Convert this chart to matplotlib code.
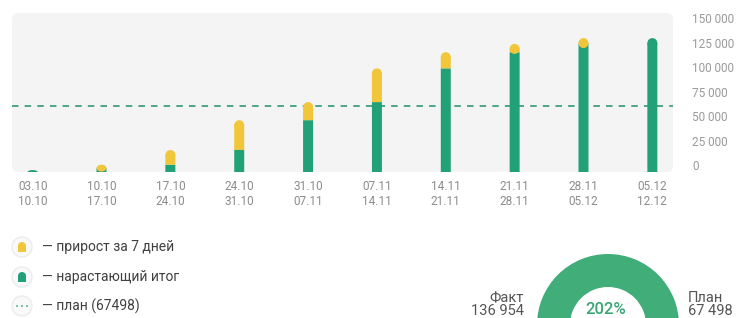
import matplotlib
matplotlib.use("Agg")
import matplotlib.pyplot as plt
import numpy as np
from matplotlib.patches import FancyBboxPatch, Circle, Rectangle, Ellipse
from matplotlib.transforms import ScaledTranslation

plt.rcParams['font.family'] = ['Roboto', 'DejaVu Sans']

# ---------------- data ----------------
week_start = ['03.10', '10.10', '17.10', '24.10', '31.10', '07.11', '14.11', '21.11', '28.11', '05.12']
week_end = ['10.10', '17.10', '24.10', '31.10', '07.11', '14.11', '21.11', '28.11', '05.12', '12.12']
cumulative_before = [2000, 4000, 7500, 22500, 53000, 71500, 106000, 122500, 131000, 136954]
weekly_growth = [0, 3500, 15000, 30500, 18500, 34500, 16500, 8500, 5954, 0]
plan_value = 67498
fact_value = 136954
fact_label = '136 954'
plan_label = '67 498'
percent_label = '202%'
y_ticks = [0, 25000, 50000, 75000, 100000, 125000, 150000]
y_tick_labels = ['0', '25 000', '50 000', '75 000', '100 000', '125 000', '150 000']
legend_labels = ['— прирост за 7 дней', '— нарастающий итог', '— план (67498)']

# ---------------- style ----------------
GREEN = '#22a078'
YELLOW = '#f2c63a'
DONUT = '#41ae7a'
PLAN_C = '#3f9f80'
BG = '#f4f4f4'

W, H = 740, 318
fig = plt.figure(figsize=(W / 100, H / 100), dpi=100)
fig.patch.set_facecolor('white')

ax_l, ax_top, ax_r, ax_bot = 12, 13, 673, 172
ax = fig.add_axes([ax_l / W, (H - ax_bot) / H, (ax_r - ax_l) / W, (ax_bot - ax_top) / H])
ax.patch.set_visible(False)
for s in ax.spines.values():
    s.set_visible(False)

# rounded background
bg = FancyBboxPatch((ax_l, H - ax_bot), ax_r - ax_l, ax_bot - ax_top,
                    boxstyle='round,pad=0,rounding_size=6', transform=None,
                    fc=BG, ec='none', zorder=0)
fig.add_artist(bg)

x = np.arange(len(week_start))
ymax = 162600
ax.set_xlim(-0.3, len(x) - 0.7)
ax.set_ylim(0, ymax)
bw = 0.145

# cap radius in data units (round top)
px_per_x = (ax_r - ax_l) / (len(x) - 0.4)
px_per_y = (ax_bot - ax_top) / ymax
r_px = bw * px_per_x / 2
r_y = r_px / px_per_y

ax.axhline(plan_value, color=PLAN_C, lw=1.3, dashes=(3.6, 3.4), zorder=1.5)

for i in x:
    cb = cumulative_before[i]
    g = weekly_growth[i]
    if g > 0:
        ax.bar(i, cb, bw, color=GREEN, zorder=2, linewidth=0, snap=False)
        seg_b, seg_t, col = cb, cb + g, YELLOW
    else:
        seg_b, seg_t, col = 0, cb, GREEN
    cap = min(r_y, seg_t - seg_b)
    ax.bar(i, seg_t - cap - seg_b, bw, bottom=seg_b, color=col, zorder=2.1,
           linewidth=0, snap=False)
    ax.add_patch(Ellipse((i, seg_t - cap), bw, 2 * cap, color=col, zorder=2.1, linewidth=0))

ax.set_xticks(x)
ax.set_xticklabels([f'{a}\n{b}' for a, b in zip(week_start, week_end)])
ax.tick_params(axis='x', length=0, pad=6, labelsize=8.5, labelcolor='#8c8c8c')
ax.yaxis.tick_right()
ax.set_yticks(y_ticks)
ax.set_yticklabels(y_tick_labels)
ax.tick_params(axis='y', length=0, pad=14, labelsize=8.5, labelcolor='#9a9a9a')
off = ScaledTranslation(0, 7 / 100, fig.dpi_scale_trans)
for lab in ax.get_yticklabels():
    lab.set_transform(lab.get_transform() + off)

# ---------------- legend ----------------
row_y = [247, 277, 306]
icx = 22
for k, ry in enumerate(row_y):
    yd = H - ry
    fig.add_artist(Circle((icx, yd), 10, transform=None, fc='#f9f9f9', ec='#ececec', lw=1, zorder=3))
    if k < 2:
        col = YELLOW if k == 0 else GREEN
        fig.add_artist(Rectangle((icx - 4, yd - 5), 8, 6, transform=None, fc=col, ec='none', zorder=4))
        fig.add_artist(Circle((icx, yd + 1), 4, transform=None, fc=col, ec='none', zorder=4))
    else:
        for dx in (-5, 0, 5):
            fig.add_artist(Circle((icx + dx, yd), 0.9, transform=None, fc=PLAN_C, ec='none', zorder=4))
    fig.text(42 / W, 1 - ry / H, legend_labels[k], fontsize=10, color='#404040', va='center', ha='left')

# ---------------- donut ----------------
cx, cy, R, rin = 608, 325, 71, 38
ax2 = fig.add_axes([(cx - R) / W, (H - cy - R) / H, 2 * R / W, 2 * R / H])
ax2.pie([fact_value], colors=[DONUT], radius=1, startangle=90,
        wedgeprops=dict(width=(R - rin) / R, linewidth=0))
ax2.set_xlim(-1, 1)
ax2.set_ylim(-1, 1)
ax2.axis('off')

fig.text(606 / W, 1 - 310 / H, percent_label, fontsize=12, color='#3aa575',
         fontweight='medium', ha='center', va='center')
fig.text(524 / W, 1 - 298 / H, 'Факт', fontsize=10.5, color='#555555', ha='right', va='center')
fig.text(524 / W, 1 - 311 / H, fact_label, fontsize=10.5, color='#555555', ha='right', va='center')
fig.text(688 / W, 1 - 298 / H, 'План', fontsize=10.5, color='#555555', ha='left', va='center')
fig.text(688 / W, 1 - 311 / H, plan_label, fontsize=10.5, color='#555555', ha='left', va='center')

fig.savefig('out.png', dpi=100, facecolor='white')
